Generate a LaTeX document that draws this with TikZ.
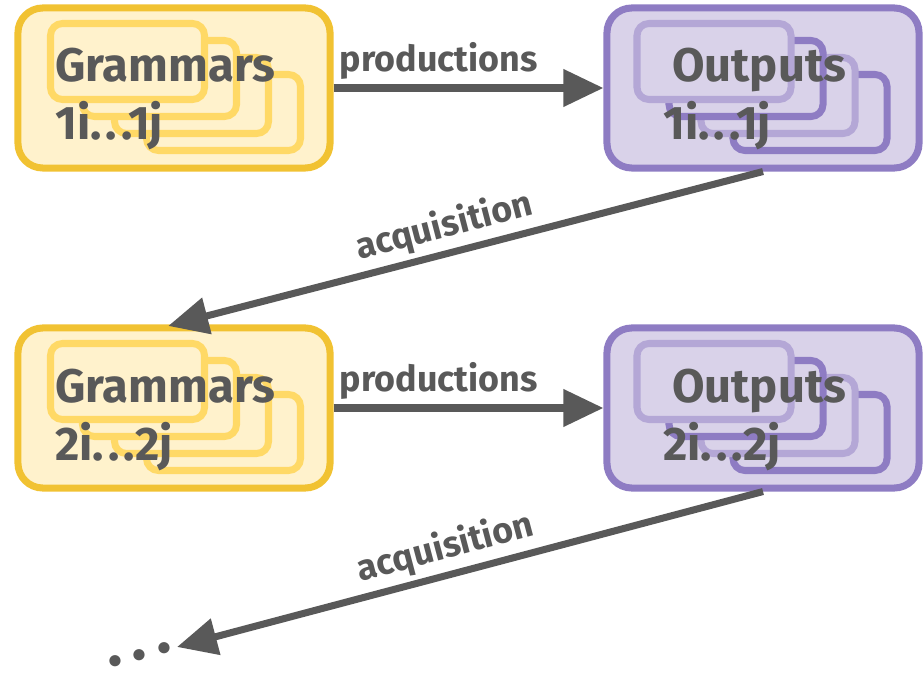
\documentclass[tikz,border=0pt]{standalone}
\usepackage{fontspec}
\setmainfont{Fira Sans}
\usetikzlibrary{arrows.meta, positioning, calc}
\definecolor{gramedge}{HTML}{F1C232}
\definecolor{gramfill}{HTML}{FFF2CC}
\definecolor{gramcard}{HTML}{FFD966}
\definecolor{outedge}{HTML}{8E7CC3}
\definecolor{outfill}{HTML}{D9D2E9}
\definecolor{outlight}{HTML}{B4A7D6}
\definecolor{txtgrey}{HTML}{595959}
\newcommand{\dotsgap}{.\kern3pt.\kern3pt.}

\begin{document}
\begin{tikzpicture}[x=0.025cm, y=-0.025cm,
	outer/.style={draw, rounded corners=0.62cm, line width=5pt, minimum width=7.8cm, minimum height=4cm, inner sep=0pt},
	gram/.style={outer, draw=gramedge, fill=gramfill},
	outp/.style={outer, draw=outedge, fill=outfill},
	card/.style={rounded corners=0.3cm, line width=5pt},
	boxtext/.style={text=txtgrey, font=\fontsize{33.5}{40}\selectfont\bfseries, anchor=base west, inner sep=0pt},
	flow/.style={draw=txtgrey, line width=5pt, -{Triangle[length=1cm,width=0.9cm]}},
	flowtext/.style={text=txtgrey, font=\fontsize{25.5}{30}\selectfont\bfseries}]
	\useasboundingbox (0,0) rectangle (924,674);

	% the four boxes
	\node[gram] (gram1) at (174,88) {};
	\node[outp] (out1) at (763,88) {};
	\node[gram] (gram2) at (174,408) {};
	\node[outp] (out2) at (763,408) {};

	% stacks of cards inside the boxes
	\foreach \b in {gram1, gram2}
		\foreach \i in {3,2,1,0}
			\draw[card, draw=gramcard, fill=gramfill] ($(\b)+(-123.5+32*\i,-64.5+17*\i)$) rectangle ++(154,76);
	\foreach \b in {out1, out2}
		\foreach \i/\c in {3/outedge,2/outlight,1/outedge,0/outlight}
			\draw[card, draw=\c, fill=outfill] ($(\b)+(-126+32*\i,-64.5+17*\i)$) rectangle ++(154,76);

	% texts
	\node[boxtext] (gram1a) at (55,82) {Grammars};
	\node[boxtext] (gram1b) at (55,140) {1i\dotsgap1j};
	\node[boxtext] (out1a) at (672,82) {Outputs};
	\node[boxtext] (out1b) at (663,140) {1i\dotsgap1j};
	\node[boxtext] (gram2a) at (55,402) {Grammars};
	\node[boxtext] (gram2b) at (55,460) {2i\dotsgap2j};
	\node[boxtext] (out2a) at (672,402) {Outputs};
	\node[boxtext] (out2b) at (663,460) {2i\dotsgap2j};

	% arrows
	\draw[flow] (gram1.east) -- node[flowtext, above=0pt, pos=0.39] {productions} (out1.west);
	\draw[flow] (gram2.east) -- node[flowtext, above=0pt, pos=0.39] {productions} (out2.west);
	\draw[flow, shorten >=-0.15cm] (out1.south) -- node[flowtext, sloped, above=0pt, pos=0.53] {acquisition} (gram2.north);
	\coordinate (more) at (177,647);
	\node[text=txtgrey, font=\fontsize{44}{50}\selectfont\bfseries, inner sep=0pt, rotate=15] (dots) at (140,655) {.\,.\,.};
	\draw[flow] (out2.south) -- node[flowtext, sloped, above=0pt, pos=0.53] {acquisition} (more);
\end{tikzpicture}
\end{document}
